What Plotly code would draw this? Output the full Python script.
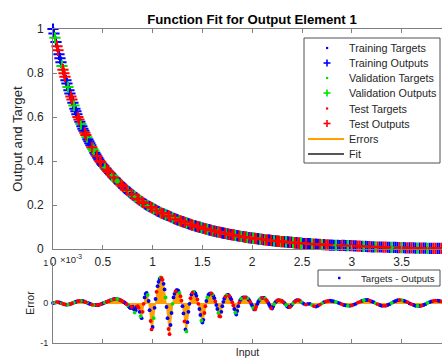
import plotly.graph_objects as go

# ---------------- data ----------------
inputs = [
    0.00, 0.01, 0.02, 0.03, 0.04, 0.05, 0.06, 0.07, 0.08, 0.09,
    0.10, 0.11, 0.12, 0.13, 0.14, 0.15, 0.16, 0.17, 0.18, 0.19,
    0.20, 0.21, 0.22, 0.23, 0.24, 0.25, 0.26, 0.27, 0.28, 0.29,
    0.30, 0.31, 0.32, 0.33, 0.34, 0.35, 0.36, 0.37, 0.38, 0.39,
    0.40, 0.41, 0.42, 0.43, 0.44, 0.45, 0.46, 0.47, 0.48, 0.49,
    0.50, 0.51, 0.52, 0.53, 0.54, 0.55, 0.56, 0.57, 0.58, 0.59,
    0.60, 0.61, 0.62, 0.63, 0.64, 0.65, 0.66, 0.67, 0.68, 0.69,
    0.70, 0.71, 0.72, 0.73, 0.74, 0.75, 0.76, 0.77, 0.78, 0.79,
    0.80, 0.81, 0.82, 0.83, 0.84, 0.85, 0.86, 0.87, 0.88, 0.89,
    0.90, 0.91, 0.92, 0.93, 0.94, 0.95, 0.96, 0.97, 0.98, 0.99,
    1.00, 1.01, 1.02, 1.03, 1.04, 1.05, 1.06, 1.07, 1.08, 1.09,
    1.10, 1.11, 1.12, 1.13, 1.14, 1.15, 1.16, 1.17, 1.18, 1.19,
    1.20, 1.21, 1.22, 1.23, 1.24, 1.25, 1.26, 1.27, 1.28, 1.29,
    1.30, 1.31, 1.32, 1.33, 1.34, 1.35, 1.36, 1.37, 1.38, 1.39,
    1.40, 1.41, 1.42, 1.43, 1.44, 1.45, 1.46, 1.47, 1.48, 1.49,
    1.50, 1.51, 1.52, 1.53, 1.54, 1.55, 1.56, 1.57, 1.58, 1.59,
    1.60, 1.61, 1.62, 1.63, 1.64, 1.65, 1.66, 1.67, 1.68, 1.69,
    1.70, 1.71, 1.72, 1.73, 1.74, 1.75, 1.76, 1.77, 1.78, 1.79,
    1.80, 1.81, 1.82, 1.83, 1.84, 1.85, 1.86, 1.87, 1.88, 1.89,
    1.90, 1.91, 1.92, 1.93, 1.94, 1.95, 1.96, 1.97, 1.98, 1.99,
    2.00, 2.01, 2.02, 2.03, 2.04, 2.05, 2.06, 2.07, 2.08, 2.09,
    2.10, 2.11, 2.12, 2.13, 2.14, 2.15, 2.16, 2.17, 2.18, 2.19,
    2.20, 2.21, 2.22, 2.23, 2.24, 2.25, 2.26, 2.27, 2.28, 2.29,
    2.30, 2.31, 2.32, 2.33, 2.34, 2.35, 2.36, 2.37, 2.38, 2.39,
    2.40, 2.41, 2.42, 2.43, 2.44, 2.45, 2.46, 2.47, 2.48, 2.49,
    2.50,
    2.52, 2.54, 2.56, 2.58, 2.60, 2.62, 2.64, 2.66, 2.68, 2.70,
    2.72, 2.74, 2.76, 2.78, 2.80, 2.82, 2.84, 2.86, 2.88, 2.90,
    2.92, 2.94, 2.96, 2.98, 3.00, 3.02, 3.04, 3.06, 3.08, 3.10,
    3.12, 3.14, 3.16, 3.18, 3.20, 3.22, 3.24, 3.26, 3.28, 3.30,
    3.32, 3.34, 3.36, 3.38, 3.40, 3.42, 3.44, 3.46, 3.48, 3.50,
    3.52, 3.54, 3.56, 3.58, 3.60, 3.62, 3.64, 3.66, 3.68, 3.70,
    3.72, 3.74, 3.76, 3.78, 3.80, 3.82, 3.84, 3.86, 3.88, 3.90,
]

targets = [
    1.000, 0.980, 0.960, 0.941, 0.922, 0.903, 0.885, 0.867, 0.849, 0.832,
    0.815, 0.799, 0.783, 0.767, 0.752, 0.736, 0.722, 0.707, 0.693, 0.679,
    0.665, 0.652, 0.638, 0.626, 0.613, 0.600, 0.589, 0.579, 0.568, 0.558,
    0.547, 0.537, 0.528, 0.518, 0.508, 0.499, 0.490, 0.481, 0.472, 0.463,
    0.455, 0.447, 0.438, 0.430, 0.423, 0.415, 0.407, 0.400, 0.394, 0.388,
    0.382, 0.377, 0.371, 0.366, 0.360, 0.355, 0.350, 0.345, 0.340, 0.335,
    0.330, 0.325, 0.320, 0.316, 0.311, 0.306, 0.302, 0.298, 0.293, 0.289,
    0.285, 0.280, 0.276, 0.272, 0.268, 0.264, 0.261, 0.257, 0.253, 0.249,
    0.246, 0.242, 0.238, 0.235, 0.232, 0.228, 0.225, 0.221, 0.218, 0.215,
    0.212, 0.209, 0.206, 0.203, 0.200, 0.197, 0.195, 0.192, 0.190, 0.187,
    0.185, 0.182, 0.180, 0.178, 0.175, 0.173, 0.171, 0.168, 0.166, 0.164,
    0.162, 0.160, 0.158, 0.156, 0.154, 0.152, 0.150, 0.148, 0.146, 0.144,
    0.142, 0.140, 0.138, 0.136, 0.135, 0.133, 0.131, 0.129, 0.128, 0.126,
    0.124, 0.123, 0.121, 0.119, 0.118, 0.116, 0.115, 0.113, 0.112, 0.110,
    0.109, 0.107, 0.106, 0.105, 0.103, 0.102, 0.101, 0.099, 0.098, 0.097,
    0.095, 0.094, 0.093, 0.091, 0.090, 0.089, 0.088, 0.087, 0.086, 0.085,
    0.083, 0.082, 0.081, 0.080, 0.079, 0.078, 0.077, 0.076, 0.075, 0.074,
    0.073, 0.072, 0.071, 0.071, 0.070, 0.069, 0.068, 0.067, 0.066, 0.065,
    0.064, 0.064, 0.063, 0.062, 0.061, 0.060, 0.060, 0.059, 0.058, 0.057,
    0.057, 0.056, 0.055, 0.054, 0.054, 0.053, 0.052, 0.052, 0.051, 0.050,
    0.050, 0.049, 0.048, 0.048, 0.047, 0.047, 0.046, 0.045, 0.045, 0.044,
    0.044, 0.043, 0.043, 0.042, 0.041, 0.041, 0.040, 0.040, 0.039, 0.039,
    0.038, 0.038, 0.037, 0.037, 0.036, 0.036, 0.036, 0.035, 0.035, 0.034,
    0.034, 0.033, 0.033, 0.032, 0.032, 0.032, 0.031, 0.031, 0.030, 0.030,
    0.030, 0.029, 0.029, 0.028, 0.028, 0.028, 0.027, 0.027, 0.027, 0.026,
    0.026,
    0.025, 0.025, 0.024, 0.024, 0.023, 0.022, 0.022, 0.021, 0.021, 0.020,
    0.020, 0.019, 0.019, 0.018, 0.018, 0.017, 0.017, 0.017, 0.016, 0.016,
    0.016, 0.015, 0.015, 0.015, 0.015, 0.014, 0.014, 0.013, 0.013, 0.012,
    0.012, 0.012, 0.011, 0.011, 0.010, 0.010, 0.010, 0.009, 0.009, 0.009,
    0.008, 0.008, 0.008, 0.007, 0.007, 0.007, 0.007, 0.006, 0.006, 0.006,
    0.006, 0.005, 0.005, 0.005, 0.005, 0.005, 0.004, 0.004, 0.004, 0.004,
    0.004, 0.004, 0.003, 0.003, 0.003, 0.003, 0.003, 0.003, 0.003, 0.003,
]

# errors = targets - outputs, in units of 1e-3
errors = [
    0.00, 0.005, 0.01, 0.015, 0.02, 0.02, 0.015, 0.01, 0.00, -0.01,
    -0.02, -0.03, -0.035, -0.04, -0.04, -0.04, -0.035, -0.03, -0.02, -0.01,
    0.00, 0.01, 0.02, 0.03, 0.04, 0.045, 0.05, 0.05, 0.05, 0.05,
    0.045, 0.04, 0.03, 0.02, 0.01, 0.00, -0.01, -0.02, -0.03, -0.04,
    -0.045, -0.05, -0.05, -0.05, -0.05, -0.05, -0.045, -0.04, -0.03, -0.02,
    -0.01, 0.00, 0.01, 0.02, 0.03, 0.04, 0.05, 0.06, 0.07, 0.08,
    0.09, 0.095, 0.10, 0.10, 0.10, 0.095, 0.09, 0.08, 0.07, 0.055,
    0.04, 0.025, 0.01, -0.01, -0.03, -0.05, -0.08, -0.11, -0.13, -0.10,
    -0.09, -0.15, -0.24, -0.18, -0.10, -0.08, -0.12, -0.22, -0.33, -0.38,
    -0.22, -0.02, 0.14, 0.23, 0.25, 0.20, 0.05, -0.18, -0.45, -0.66,
    -0.60, -0.38, -0.12, 0.10, 0.28, 0.42, 0.53, 0.60, 0.64, 0.63,
    0.58, 0.48, 0.34, 0.14, -0.10, -0.38, -0.65, -0.78, -0.55, -0.25,
    -0.02, 0.14, 0.23, 0.29, 0.32, 0.32, 0.30, 0.25, 0.17, 0.06,
    -0.08, -0.26, -0.46, -0.66, -0.71, -0.48, -0.22, -0.02, 0.12, 0.21,
    0.26, 0.28, 0.27, 0.24, 0.18, 0.09, -0.02, -0.15, -0.30, -0.44,
    -0.49, -0.42, -0.25, -0.08, 0.05, 0.14, 0.20, 0.23, 0.24, 0.24,
    0.22, 0.18, 0.12, 0.04, -0.05, -0.15, -0.25, -0.33, -0.34, -0.22,
    -0.08, 0.03, 0.11, 0.16, 0.19, 0.20, 0.20, 0.18, 0.14, 0.09,
    0.02, -0.06, -0.15, -0.24, -0.29, -0.20, -0.08, 0.01, 0.07, 0.11,
    0.13, 0.14, 0.14, 0.14, 0.14, 0.12, 0.10, 0.07, 0.03, -0.02,
    -0.07, -0.12, -0.16, -0.16, -0.10, -0.03, 0.03, 0.07, 0.10, 0.12,
    0.13, 0.13, 0.13, 0.11, 0.08, 0.05, 0.01, -0.04, -0.09, -0.13,
    -0.14, -0.09, -0.03, 0.01, 0.04, 0.06, 0.07, 0.07, 0.07, 0.06,
    0.05, 0.03, 0.01, -0.02, -0.05, -0.08, -0.10, -0.10, -0.10, -0.07,
    -0.04, -0.01, 0.02, 0.04, 0.06, 0.07, 0.07, 0.07, 0.05, 0.03,
    0.01,
    -0.02, -0.04, -0.02, -0.02, -0.05, -0.08, -0.09, -0.07, -0.04, -0.01,
    0.02, 0.04, 0.05, 0.06, 0.05, 0.04, 0.03, 0.01, -0.01, -0.03,
    -0.05, -0.06, -0.07, -0.07, -0.06, -0.04, -0.02, 0.01, 0.03, 0.05,
    0.07, 0.075, 0.075, 0.06, 0.04, 0.02, -0.01, -0.03, -0.05, -0.07,
    -0.07, -0.07, -0.05, -0.03, 0.00, 0.03, 0.05, 0.07, 0.075, 0.07,
    0.06, 0.04, 0.02, -0.01, -0.03, -0.05, -0.07, -0.075, -0.075, -0.07,
    -0.05, -0.03, 0.00, 0.02, 0.04, 0.055, 0.06, 0.06, 0.05, 0.04,
]

# data division of each sample: T = training, V = validation, S = test
sets = (
    "TTVTSSTTTV" "SSSTTVTTSS" "TVTTTSSTVT" "TTSSVTTTTS" "VVTTSTTSST"
    "TTVTSSSTTV" "TSTTVVTTST" "STTTSVTTTS" "TTVTTSSTVT" "SSTTTVTTSS"
    "TVTTSTTTVS" "STTVTTSSTT" "VTTSTTTVSS" "TTSTVTTTST" "SVTTTSSTTV"
    "TTSSTVTTTS" "VTTSTTVSST" "TTTSVTTSTT" "SSTVTTTSTV" "TTSSTVTTST"
    "TVTSSTTTVT" "STTVSSTTTS" "TTVTTSTSVT" "SSTTVTTTST" "TVTSTTSSTV"
    "TTSTTVSTTS" "VTSSTTTVTT" "STTVTSTTSS" "TVTTSTTVST" "TSSTTVTTTS"
    "VTTSTSTTVT" "STTVTTSSTT" "S"
)

x_ticks = [0, 0.5, 1, 1.5, 2, 2.5, 3, 3.5]
x_tick_text = ["0", "0.5", "1", "1.5", "2", "2.5", "3", "3.5"]
y_ticks = [0, 0.2, 0.4, 0.6, 0.8, 1]
y_tick_text = ["0", "0.2", "0.4", "0.6", "0.8", "1"]
err_ticks = [-1, 0, 1]
err_tick_text = ["-1", "0", "1"]

set_order = ["T", "V", "S"]
set_names = {"T": "Training", "V": "Validation", "S": "Test"}
set_colors = {"T": "rgb(0,0,255)", "V": "rgb(0,225,0)", "S": "rgb(255,0,0)"}
ERR_COLOR = "rgb(255,160,0)"
FIT_COLOR = "rgb(30,30,30)"

outputs = [t - e * 1e-3 for t, e in zip(targets, errors)]

# ---------------- geometry ----------------
W, H = 442, 363
L, R, T, B = 53, 442, 29, 343


def px(xp):
    return (xp - L) / (R - L)


def py(yp):
    return (B - yp) / (B - T)


FONT = "Liberation Sans, Arial, sans-serif"
TXT = "rgb(38,38,38)"
AX = "rgb(128,128,128)"

fig = go.Figure()

# Fit line (under markers)
fig.add_trace(go.Scatter(x=inputs, y=outputs, mode="lines", name="Fit",
                         line=dict(color=FIT_COLOR, width=1),
                         xaxis="x", yaxis="y", showlegend=False))


def pick(k, values):
    return [v for v, s in zip(values, sets) if s == k]


for k in set_order:
    xs = pick(k, inputs)
    fig.add_trace(go.Scatter(
        x=xs, y=pick(k, targets), mode="markers",
        name=set_names[k] + " Targets",
        marker=dict(symbol="circle", size=3, color=set_colors[k]),
        xaxis="x", yaxis="y", showlegend=False, cliponaxis=False))
    fig.add_trace(go.Scatter(
        x=xs, y=pick(k, outputs), mode="markers",
        name=set_names[k] + " Outputs",
        marker=dict(symbol="cross-thin", size=8, color=set_colors[k],
                    line=dict(color=set_colors[k], width=2)),
        xaxis="x", yaxis="y", showlegend=False, cliponaxis=False))

# Error area
fig.add_trace(go.Scatter(x=inputs, y=errors, mode="lines", name="Errors",
                         line=dict(color=ERR_COLOR, width=1),
                         fill="tozeroy", fillcolor=ERR_COLOR,
                         xaxis="x2", yaxis="y2", showlegend=False))
for k in set_order:
    fig.add_trace(go.Scatter(
        x=pick(k, inputs), y=pick(k, errors),
        mode="markers", name="Targets - Outputs",
        marker=dict(symbol="circle", size=3.8, color=set_colors[k]),
        xaxis="x2", yaxis="y2", showlegend=False, cliponaxis=False))

xr = [0, (R - L) / 99.6]
common_x = dict(range=xr, tickvals=x_ticks, ticks="inside", ticklen=4,
                tickcolor=AX, showline=True, linecolor=AX, linewidth=1,
                showgrid=False, zeroline=False)

shapes = []
annotations = []

# top legend (manual)
shapes.append(dict(type="rect", xref="paper", yref="paper",
                   x0=px(304), x1=px(440), y0=py(163), y1=py(38),
                   line=dict(color="rgb(80,80,80)", width=1),
                   fillcolor="white", layer="above"))
rows = [48, 63, 78, 93, 108.5, 123.5, 139, 154]
labels = ["Training Targets", "Training Outputs", "Validation Targets",
          "Validation Outputs", "Test Targets", "Test Outputs", "Errors", "Fit"]
kinds = [("dot", "T"), ("plus", "T"), ("dot", "V"), ("plus", "V"),
         ("dot", "S"), ("plus", "S"), ("line", ERR_COLOR), ("line", FIT_COLOR)]
for r, lab, (kind, c) in zip(rows, labels, kinds):
    annotations.append(dict(xref="paper", yref="paper", x=px(347), y=py(r),
                            xanchor="left", yanchor="middle", text=lab,
                            showarrow=False,
                            font=dict(family=FONT, size=10.8, color=TXT)))
    if kind == "dot":
        shapes.append(dict(type="rect", xref="paper", yref="paper",
                           x0=px(326), x1=px(328.2), y0=py(r + 1.1), y1=py(r - 1.1),
                           fillcolor=set_colors[c], line=dict(width=0), layer="above"))
    elif kind == "plus":
        shapes.append(dict(type="line", xref="paper", yref="paper",
                           x0=px(323.5), x1=px(330.5), y0=py(r), y1=py(r),
                           line=dict(color=set_colors[c], width=1.6), layer="above"))
        shapes.append(dict(type="line", xref="paper", yref="paper",
                           x0=px(327), x1=px(327), y0=py(r + 3.5), y1=py(r - 3.5),
                           line=dict(color=set_colors[c], width=1.6), layer="above"))
    else:
        shapes.append(dict(type="line", xref="paper", yref="paper",
                           x0=px(308), x1=px(344), y0=py(r), y1=py(r),
                           line=dict(color=c, width=2 if c == ERR_COLOR else 1.6),
                           layer="above"))

# bottom legend (manual)
shapes.append(dict(type="rect", xref="paper", yref="paper",
                   x0=px(318), x1=px(440), y0=py(286), y1=py(270),
                   line=dict(color="rgb(80,80,80)", width=1),
                   fillcolor="white", layer="above"))
shapes.append(dict(type="rect", xref="paper", yref="paper",
                   x0=px(338), x1=px(340.5), y0=py(279.2), y1=py(276.8),
                   fillcolor=set_colors["T"], line=dict(width=0), layer="above"))
annotations.append(dict(xref="paper", yref="paper", x=px(437), y=py(278),
                        xanchor="right", yanchor="middle", text="Targets - Outputs",
                        showarrow=False, font=dict(family=FONT, size=9.6, color=TXT)))

# exponent label
annotations.append(dict(xref="paper", yref="paper", x=px(58), y=py(259),
                        xanchor="left", yanchor="middle",
                        text="\u00d710<sup>-3</sup>", showarrow=False,
                        font=dict(family=FONT, size=9.5, color=TXT)))

fig.update_layout(
    width=W, height=H,
    margin=dict(l=L, r=W - R, t=T, b=H - B, pad=0),
    paper_bgcolor="white", plot_bgcolor="white",
    font=dict(family=FONT, color=TXT, size=12),
    showlegend=False,
    title=dict(text="<b>Function Fit for Output Element 1</b>",
               x=px(252), xref="paper", xanchor="center",
               y=1 - 19.5 / H, yref="container", yanchor="middle",
               font=dict(family=FONT, size=13.2, color="black")),
    xaxis=dict(domain=[0, 1], anchor="y", ticktext=x_tick_text,
               mirror="ticks", tickfont=dict(size=12, color=TXT),
               ticklabelstandoff=2, **common_x),
    yaxis=dict(domain=[py(249), 1], anchor="x", range=[0, 1],
               tickvals=y_ticks, ticktext=y_tick_text, ticks="inside",
               ticklen=4, tickcolor=AX, showline=True, linecolor=AX,
               linewidth=1, showgrid=False, zeroline=False,
               tickfont=dict(size=12, color=TXT), ticklabelstandoff=6,
               title=dict(text="Output and Target", standoff=1,
                          font=dict(size=13.2, color=TXT))),
    xaxis2=dict(domain=[0, 1], anchor="y2", showticklabels=False,
                title=dict(text="Input", standoff=5,
                           font=dict(size=10.5, color=TXT)),
                **common_x),
    yaxis2=dict(domain=[0, py(263)], anchor="x2", range=[-1, 1],
                tickvals=err_ticks, ticktext=err_tick_text, ticks="inside",
                ticklen=4, tickcolor=AX, showline=True, linecolor=AX,
                linewidth=1, showgrid=False, zeroline=True,
                zerolinecolor=ERR_COLOR, zerolinewidth=1,
                tickfont=dict(size=9, color=TXT), ticklabelstandoff=2,
                title=dict(text="Error", standoff=3,
                           font=dict(size=10.5, color=TXT))),
    shapes=shapes,
    annotations=annotations,
)

fig.write_html("out.html", config={"displayModeBar": False})
